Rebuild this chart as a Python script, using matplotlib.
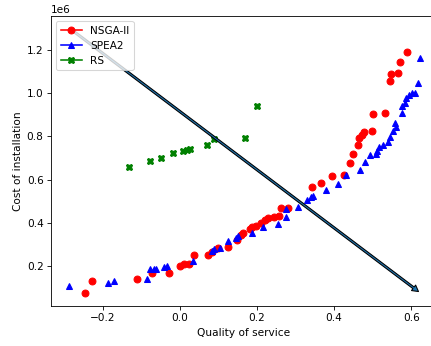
import matplotlib
matplotlib.use("Agg")
import matplotlib.pyplot as plt
from matplotlib.patches import FancyArrowPatch
from matplotlib.lines import Line2D

nsga_x = [-0.247, -0.227, -0.111, -0.073, -0.029, 0.001, 0.010, 0.024, 0.036, 0.072,
          0.084, 0.099, 0.125, 0.149, 0.159, 0.164, 0.181, 0.188, 0.197, 0.210,
          0.220, 0.230, 0.244, 0.256, 0.263, 0.280, 0.342, 0.366, 0.396, 0.425,
          0.442, 0.449, 0.463, 0.466, 0.472, 0.477, 0.498, 0.500, 0.531, 0.544,
          0.549, 0.567, 0.570, 0.588]
nsga_y = [0.073, 0.130, 0.137, 0.166, 0.167, 0.197, 0.208, 0.207, 0.250, 0.248,
          0.264, 0.280, 0.288, 0.319, 0.342, 0.350, 0.370, 0.380, 0.384, 0.396,
          0.413, 0.420, 0.426, 0.430, 0.466, 0.470, 0.563, 0.585, 0.617, 0.621,
          0.675, 0.719, 0.762, 0.791, 0.807, 0.821, 0.827, 0.902, 0.909, 1.056,
          1.089, 1.093, 1.146, 1.192]

spea_x = [-0.288, -0.187, -0.170, -0.085, -0.078, -0.066, -0.062, -0.040, -0.034, 0.033,
          0.083, 0.088, 0.103, 0.126, 0.147, 0.151, 0.187, 0.217, 0.255, 0.276,
          0.276, 0.306, 0.329, 0.341, 0.346, 0.380, 0.410, 0.430, 0.468, 0.479,
          0.492, 0.508, 0.511, 0.516, 0.527, 0.539, 0.544, 0.554, 0.560, 0.558,
          0.577, 0.577, 0.583, 0.587, 0.594, 0.603, 0.611, 0.617, 0.622]
spea_y = [0.106, 0.118, 0.130, 0.140, 0.183, 0.186, 0.186, 0.194, 0.197, 0.222,
          0.270, 0.276, 0.280, 0.313, 0.327, 0.340, 0.351, 0.380, 0.392, 0.424,
          0.461, 0.473, 0.503, 0.520, 0.525, 0.550, 0.581, 0.621, 0.644, 0.683,
          0.714, 0.719, 0.734, 0.750, 0.760, 0.776, 0.799, 0.827, 0.845, 0.861,
          0.910, 0.941, 0.954, 0.977, 0.992, 1.000, 1.000, 1.050, 1.164]

rs_x = [-0.132, -0.078, -0.050, -0.018, 0.008, 0.019, 0.026, 0.071, 0.089, 0.169, 0.201]
rs_y = [0.660, 0.687, 0.700, 0.725, 0.731, 0.737, 0.740, 0.760, 0.788, 0.793, 0.943]

arrow_start = (-0.280, 1.294)
arrow_end = (0.619, 0.080)

labels = ["NSGA-II", "SPEA2", "RS"]
scale = 1e6

DPI = 76
fig = plt.figure(figsize=(431/DPI, 346/DPI), dpi=DPI)
ax = fig.add_axes([51/431, 40/346, 386/431, 290/346])

ax.plot(nsga_x, [v*scale for v in nsga_y], ls='none', marker='o', color='red', ms=6.5)
ax.plot(spea_x, [v*scale for v in spea_y], ls='none', marker='^', color='blue', ms=6.5)
ax.plot(rs_x, [v*scale for v in rs_y], ls='none', marker='X', color='green', ms=6.5)

arr = FancyArrowPatch((arrow_start[0], arrow_start[1]*scale), (arrow_end[0], arrow_end[1]*scale),
                      arrowstyle='simple,head_length=0.45,head_width=0.5,tail_width=0.15',
                      mutation_scale=13, fc='C0', ec='black', lw=1.0,
                      shrinkA=0, shrinkB=0, zorder=3)
ax.add_patch(arr)

handles = [Line2D([], [], color='red', marker='o', ms=6.5),
           Line2D([], [], color='blue', marker='^', ms=6.5),
           Line2D([], [], color='green', marker='X', ms=6.5)]
ax.legend(handles, labels, loc='upper left')

ax.set_xlim(-0.334, 0.667)
ax.set_ylim(0.0129*scale, 1.359*scale)
ax.set_xlabel("Quality of service")
ax.set_ylabel("Cost of installation")

fig.savefig("out.png", dpi=DPI)
